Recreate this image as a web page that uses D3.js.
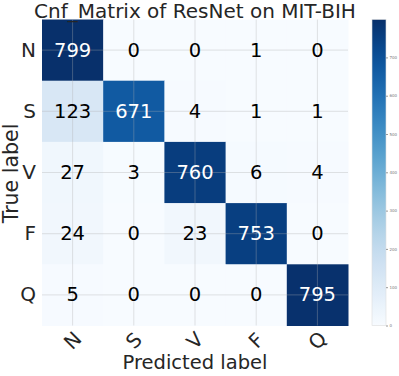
<!DOCTYPE html>
<html>
<head>
<meta charset="utf-8">
<script src="https://cdn.jsdelivr.net/npm/d3@7"></script>
<style>
  html, body { margin: 0; padding: 0; background: #fff; }
  svg { display: block; font-family: "DejaVu Sans", sans-serif; }
</style>
</head>
<body>
<svg id="chart" width="399" height="376"></svg>
<script>
const trueLabels = ["N", "S", "V", "F", "Q"];
const predLabels = ["N", "S", "V", "F", "Q"];
const rowN = [799, 0, 0, 1, 0];
const rowS = [123, 671, 4, 1, 1];
const rowV = [27, 3, 760, 6, 4];
const rowF = [24, 0, 23, 753, 0];
const rowQ = [5, 0, 0, 0, 795];
const colorbarTicks = [0, 100, 200, 300, 400, 500, 600, 700];
const titleText = "Cnf_Matrix of ResNet on MIT-BIH";

const matrix = [rowN, rowS, rowV, rowF, rowQ];
const cells = [];
matrix.forEach((row, i) => row.forEach((v, j) => cells.push({ r: trueLabels[i], c: predLabels[j], v })));
const vmax = d3.max(cells, d => d.v);
const vmin = d3.min(cells, d => d.v);

const svg = d3.select("#chart");
const mLeft = 42, mTop = 19.5, mSize = 306;

const x = d3.scaleBand().domain(predLabels).range([mLeft, mLeft + mSize]);
const y = d3.scaleBand().domain(trueLabels).range([mTop, mTop + mSize]);
const color = d3.scaleSequential(d3.interpolateBlues).domain([vmin, vmax]);

// cells
svg.append("g").selectAll("rect").data(cells).join("rect")
  .attr("x", d => x(d.c)).attr("y", d => y(d.r))
  .attr("width", x.bandwidth() + 0.5).attr("height", y.bandwidth() + 0.5)
  .attr("fill", d => color(d.v));

// grid lines at tick centers
const grid = svg.append("g").attr("stroke", "rgba(176,176,176,0.35)").attr("stroke-width", 1);
predLabels.forEach(l => {
  const cx = x(l) + x.bandwidth() / 2;
  grid.append("line").attr("x1", cx).attr("x2", cx).attr("y1", mTop).attr("y2", mTop + mSize);
});
trueLabels.forEach(l => {
  const cyy = y(l) + y.bandwidth() / 2;
  grid.append("line").attr("x1", mLeft).attr("x2", mLeft + mSize).attr("y1", cyy).attr("y2", cyy);
});

// annotations
const thresh = (vmax + vmin) / 2;
svg.append("g").selectAll("text").data(cells).join("text")
  .attr("x", d => x(d.c) + x.bandwidth() / 2)
  .attr("y", d => y(d.r) + y.bandwidth() / 2)
  .attr("text-anchor", "middle").attr("dominant-baseline", "central")
  .attr("font-size", 19.5)
  .attr("fill", d => d.v > thresh ? "#ffffff" : "#000000")
  .text(d => d.v);

// y tick labels
const yAxis = d3.axisLeft(y).tickSize(0).tickPadding(6);
const gy = svg.append("g").attr("transform", `translate(${mLeft},0)`).call(yAxis);
gy.select(".domain").remove();
gy.selectAll("text").attr("font-size", 20).attr("fill", "#262626").attr("font-family", "DejaVu Sans");

// x tick labels rotated
const xAxis = d3.axisBottom(x).tickSize(0).tickPadding(0);
const gx = svg.append("g").attr("transform", `translate(0,${mTop + mSize})`).call(xAxis);
gx.select(".domain").remove();
gx.selectAll("text")
  .attr("font-size", 20).attr("fill", "#262626").attr("font-family", "DejaVu Sans")
  .attr("y", 0).attr("dy", null)
  .attr("text-anchor", "middle").attr("dominant-baseline", "central")
  .attr("transform", "translate(0,15) rotate(-45)");

// axis labels
svg.append("text").attr("x", mLeft + mSize / 2).attr("y", 369)
  .attr("text-anchor", "middle").attr("font-size", 19.5).attr("fill", "#262626")
  .text("Predicted label");
svg.append("text").attr("transform", `translate(18,${mTop + mSize / 2 + 1}) rotate(-90)`)
  .attr("text-anchor", "middle").attr("font-size", 20.5).attr("fill", "#262626")
  .text("True label");

// title
svg.append("text").attr("x", mLeft + mSize / 2).attr("y", 18)
  .attr("text-anchor", "middle").attr("font-size", 20).attr("fill", "#262626")
  .text(titleText);

// colorbar
const cbX = 372, cbW = 14;
const cbScale = d3.scaleLinear().domain([vmin, vmax]).range([mTop + mSize, mTop]);
const defs = svg.append("defs");
const grad = defs.append("linearGradient").attr("id", "cbgrad")
  .attr("x1", 0).attr("y1", 1).attr("x2", 0).attr("y2", 0);
d3.range(0, 1.0001, 0.05).forEach(t => {
  grad.append("stop").attr("offset", t).attr("stop-color", d3.interpolateBlues(t));
});
svg.append("rect").attr("x", cbX).attr("y", mTop).attr("width", cbW).attr("height", mSize)
  .attr("fill", "url(#cbgrad)").attr("stroke", "#dddddd").attr("stroke-width", 0.6);
const cbAxis = d3.axisRight(cbScale).tickValues(colorbarTicks).tickSize(2).tickPadding(1.5);
const gcb = svg.append("g").attr("transform", `translate(${cbX + cbW},0)`).call(cbAxis);
gcb.select(".domain").remove();
gcb.selectAll("line").attr("stroke", "#999");
gcb.selectAll("text").attr("font-size", 4).attr("fill", "#777").attr("font-family", "DejaVu Sans");
</script>
</body>
</html>
